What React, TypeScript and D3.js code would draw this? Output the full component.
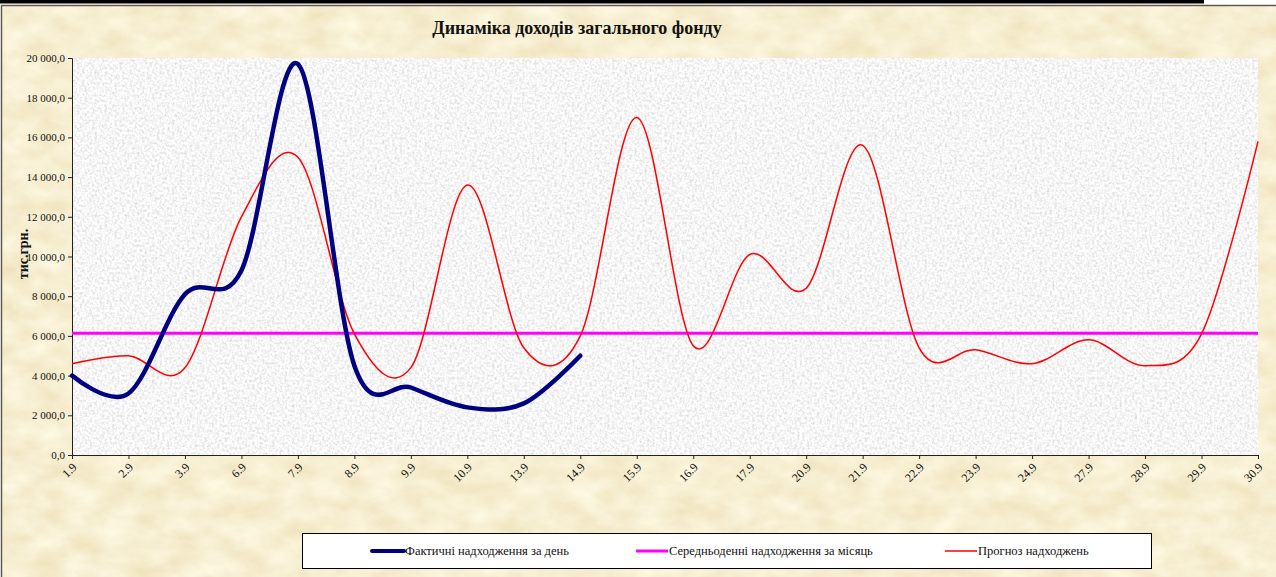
import React, { useEffect, useRef } from "react";
import * as d3 from "d3";

// дати (категорії осі X)
const dates = [
  "1.9", "2.9", "3.9", "6.9", "7.9", "8.9", "9.9", "10.9", "13.9", "14.9", "15.9",
  "16.9", "17.9", "20.9", "21.9", "22.9", "23.9", "24.9", "27.9", "28.9", "29.9", "30.9",
];
// фактичні надходження за день (тис.грн.)
const actual = [4000, 3100, 8100, 9300, 19700, 4500, 3400, 2400, 2600, 5000];
// середньоденні надходження за місяць
const monthlyAverage = 6130;
// прогноз надходжень
const forecast = [
  4600, 5000, 4400, 12000, 15000, 6100, 4400, 13600, 5400, 6000, 17000,
  5500, 10100, 8400, 15600, 5400, 5300, 4600, 5800, 4500, 6100, 15800,
];
const yTicks = [0, 2000, 4000, 6000, 8000, 10000, 12000, 14000, 16000, 18000, 20000];

const title = "Динаміка доходів загального фонду";
const yLabel = "тис.грн.";
const legendItems = [
  { label: "Фактичні надходження за день", color: "#000080", width: 4 },
  { label: "Середньоденні надходження за місяць", color: "#ff00ff", width: 3 },
  { label: "Прогноз надходжень", color: "#ff0000", width: 1.5 },
];

const W = 1276;
const H = 577;
const plot = { left: 72, right: 1258, top: 58, bottom: 455 };
const FONT = "'Liberation Serif', 'Times New Roman', serif";

const App = () => {
  const ref = useRef(null);

  useEffect(() => {
    const svg = d3.select(ref.current);
    svg.selectAll(".dyn").remove();
    const g = svg.append("g").attr("class", "dyn");

    const x = d3.scalePoint().domain(dates).range([plot.left, plot.right]);
    const y = d3.scaleLinear().domain([0, 20000]).range([plot.bottom, plot.top]);

    const ua = d3.formatLocale({ decimal: ",", thousands: " ", grouping: [3], currency: ["", ""] });
    const fmt = ua.format(",.1f");

    // вісь Y
    const yAxis = d3.axisLeft(y).tickValues(yTicks).tickFormat((d) => fmt(d)).tickSize(4).tickPadding(3);
    const ya = g.append("g").attr("transform", `translate(${plot.left},0)`).call(yAxis);
    ya.select(".domain").attr("stroke", "#222");
    ya.selectAll(".tick line").attr("stroke", "#222");
    ya.selectAll("text").attr("font-family", FONT).attr("font-size", 11).attr("fill", "#111");

    // вісь X
    const xAxis = d3.axisBottom(x).tickSize(4);
    const xa = g.append("g").attr("transform", `translate(0,${plot.bottom})`).call(xAxis);
    xa.select(".domain").attr("stroke", "#222");
    xa.selectAll(".tick line").attr("stroke", "#222");
    xa.selectAll("text")
      .attr("font-family", FONT)
      .attr("font-size", 12)
      .attr("fill", "#111")
      .attr("text-anchor", "end")
      .attr("dy", 0)
      .attr("y", 0)
      .attr("transform", "translate(5,13) rotate(-45)");

    const smooth = d3.curveCardinal.tension(0);

    // середньоденні
    g.append("line")
      .attr("x1", x(dates[0]))
      .attr("x2", x(dates[dates.length - 1]))
      .attr("y1", y(monthlyAverage))
      .attr("y2", y(monthlyAverage))
      .attr("stroke", "#ff00ff")
      .attr("stroke-width", 3);

    // прогноз
    const fLine = d3.line<number>().x((d, i) => x(dates[i])).y((d) => y(d)).curve(smooth);
    g.append("path")
      .attr("d", fLine(forecast))
      .attr("fill", "none")
      .attr("stroke", "#ff0000")
      .attr("stroke-width", 1.5);

    // фактичні
    const aLine = d3.line<number>().x((d, i) => x(dates[i])).y((d) => y(d)).curve(smooth);
    g.append("path")
      .attr("d", aLine(actual))
      .attr("fill", "none")
      .attr("stroke", "#000080")
      .attr("stroke-width", 4.5)
      .attr("stroke-linecap", "round")
      .attr("stroke-linejoin", "round");
  }, []);

  const legendX = [372, 636, 945];

  return (
    <svg
      ref={ref}
      width={W}
      height={H}
      style={{ position: "absolute", left: 0, top: 0, display: "block" }}
    >
      <defs>
        <filter id="parchment" x="0" y="0" width="100%" height="100%">
          <feTurbulence type="fractalNoise" baseFrequency="0.03 0.05" numOctaves="4" seed="7" result="n" />
          <feColorMatrix
            in="n"
            type="matrix"
            values="0.16 0 0 0 0.85  0.24 0 0 0 0.74  0.34 0 0 0 0.47  0 0 0 0 1"
          />
        </filter>
        <filter id="granite" x="0" y="0" width="100%" height="100%">
          <feTurbulence type="fractalNoise" baseFrequency="0.4" numOctaves="3" seed="3" result="n" />
          <feColorMatrix
            in="n"
            type="matrix"
            values="0.6 0 0 0 0.62  0.6 0 0 0 0.62  0.6 0 0 0 0.62  0 0 0 0 1"
          />
        </filter>
      </defs>

      <rect x={0} y={0} width={W} height={H} fill="#ffffff" />
      <rect x={0} y={0} width={1204} height={3.5} fill="#000" />
      <rect x={1.5} y={6} width={W} height={H} fill="#efdcaa" filter="url(#parchment)" />
      <rect x={1.5} y={5.5} width={W + 2} height={H} fill="none" stroke="#5f5a50" strokeWidth={1.5} />

      <rect
        x={plot.left}
        y={plot.top}
        width={plot.right - plot.left}
        height={plot.bottom - plot.top}
        fill="#eeeeee"
        filter="url(#granite)"
      />

      <text
        x={577}
        y={34}
        textAnchor="middle"
        fontFamily={FONT}
        fontWeight="bold"
        fontSize={18}
        fill="#111"
      >
        {title}
      </text>

      <text
        transform="translate(28,254) rotate(-90)"
        textAnchor="middle"
        fontFamily={FONT}
        fontWeight="bold"
        fontSize={14}
        fill="#111"
      >
        {yLabel}
      </text>

      <rect x={302.5} y={533.5} width={849} height={35} fill="#ffffff" stroke="#000" strokeWidth={1} />
      {legendItems.map((it, i) => (
        <g key={it.label}>
          <line
            x1={legendX[i]}
            x2={legendX[i] + 32}
            y1={551}
            y2={551}
            stroke={it.color}
            strokeWidth={it.width}
            strokeLinecap={i === 0 ? "round" : "butt"}
          />
          <text x={legendX[i] + 33} y={555} fontFamily={FONT} fontSize={12.5} fill="#111">
            {it.label}
          </text>
        </g>
      ))}
    </svg>
  );
};

export default App;
